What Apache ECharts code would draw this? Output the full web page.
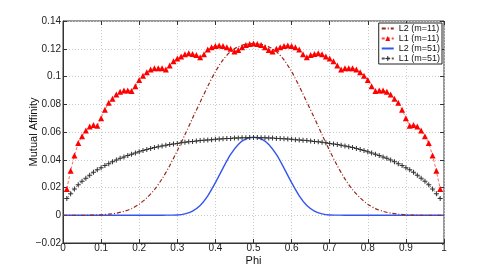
<!DOCTYPE html>
<html>
<head>
<meta charset="utf-8">
<script src="https://cdn.jsdelivr.net/npm/echarts@6/dist/echarts.min.js"></script>
<style>
    html, body { margin: 0; padding: 0; background: #fff; }
    #chart { width: 491px; height: 273px; }
</style>
</head>
<body>
<div id="chart"></div>
<script>
// L1 (m=11), phi = 0.01 ... 0.99
const l1m11 = [
    0.019, 0.032, 0.043, 0.052, 0.057, 0.061, 0.064, 0.065, 0.0645, 0.070,
    0.076, 0.081, 0.084, 0.087, 0.089, 0.090, 0.090, 0.0895, 0.093, 0.0975,
    0.1005, 0.103, 0.105, 0.106, 0.106, 0.106, 0.105, 0.108, 0.111, 0.113,
    0.1145, 0.116, 0.1167, 0.1162, 0.1155, 0.1138, 0.116, 0.1194, 0.121, 0.122,
    0.1223, 0.122, 0.121, 0.120, 0.118, 0.1191, 0.121, 0.1227, 0.1235, 0.1237,
    0.1235, 0.1227, 0.121, 0.1191, 0.118, 0.120, 0.121, 0.122, 0.1223, 0.122,
    0.121, 0.1194, 0.116, 0.1138, 0.1155, 0.1162, 0.1167, 0.116, 0.1145, 0.113,
    0.111, 0.108, 0.105, 0.106, 0.106, 0.106, 0.105, 0.103, 0.1005, 0.0975,
    0.093, 0.0895, 0.090, 0.090, 0.089, 0.087, 0.084, 0.081, 0.076, 0.070,
    0.0645, 0.065, 0.064, 0.061, 0.057, 0.052, 0.043, 0.032, 0.019
]

// L1 (m=51), phi = 0.01 ... 0.99
const l1m51 = [
    0.012, 0.0155, 0.019, 0.022, 0.0245, 0.0267, 0.0289, 0.031, 0.0328, 0.0343,
    0.0358, 0.0372, 0.0385, 0.0398, 0.041, 0.042, 0.043, 0.044, 0.0449, 0.0458,
    0.0466, 0.0474, 0.0481, 0.0488, 0.0494, 0.050, 0.0505, 0.051, 0.0514, 0.0518,
    0.0522, 0.0526, 0.0529, 0.0532, 0.0535, 0.0538, 0.054, 0.0543, 0.0545, 0.0547,
    0.0549, 0.0551, 0.0553, 0.0554, 0.0556, 0.0557, 0.0558, 0.0559, 0.056, 0.056,
    0.056, 0.0559, 0.0558, 0.0557, 0.0556, 0.0554, 0.0553, 0.0551, 0.0549, 0.0547,
    0.0545, 0.0543, 0.054, 0.0538, 0.0535, 0.0532, 0.0529, 0.0526, 0.0522, 0.0518,
    0.0514, 0.051, 0.0505, 0.050, 0.0494, 0.0488, 0.0481, 0.0474, 0.0466, 0.0458,
    0.0449, 0.044, 0.043, 0.042, 0.041, 0.0398, 0.0385, 0.0372, 0.0358, 0.0343,
    0.0328, 0.031, 0.0289, 0.0267, 0.0245, 0.022, 0.019, 0.0155, 0.012
]

// L2 (m=11), phi = 0, 0.02 ... 1
const l2m11 = [
    0, 0, 0, 0, 0.0001, 0.0003, 0.0008, 0.0015, 0.0028, 0.0048,
    0.0080, 0.0125, 0.0185, 0.0262, 0.0357, 0.0465, 0.0580, 0.0700, 0.0815, 0.0930,
    0.1035, 0.1120, 0.1180, 0.1215, 0.1232, 0.1237, 0.1232, 0.1215, 0.1180, 0.1120,
    0.1035, 0.0930, 0.0815, 0.0700, 0.0580, 0.0465, 0.0357, 0.0262, 0.0185, 0.0125,
    0.0080, 0.0048, 0.0028, 0.0015, 0.0008, 0.0003, 0.0001, 0, 0, 0, 0
]

// L2 (m=51), phi = 0, 0.02 ... 1
const l2m51 = [
    0, 0, 0, 0, 0, 0, 0, 0, 0, 0,
    0, 0, 0, 0, 0.0001, 0.0002, 0.0010, 0.0030, 0.0070, 0.0140,
    0.0235, 0.0340, 0.0438, 0.0510, 0.0550, 0.0562, 0.0550, 0.0510, 0.0438, 0.0340,
    0.0235, 0.0140, 0.0070, 0.0030, 0.0010, 0.0002, 0.0001, 0, 0, 0,
    0, 0, 0, 0, 0, 0, 0, 0, 0, 0, 0
]

const seriesNames = ['L2 (m=11)', 'L1 (m=11)', 'L2 (m=51)', 'L1 (m=51)']
const xTicks = ['0', '0.1', '0.2', '0.3', '0.4', '0.5', '0.6', '0.7', '0.8', '0.9', '1']

// x positions of the samples
function fine(values) {
    return values.map(function (v, i) { return [+((i + 1) / 100).toFixed(2), v] })
}
function coarse(values) {
    return values.map(function (v, i) { return [+(i / 50).toFixed(2), v] })
}

const font = 'Liberation Sans'
const plus = 'path://M4,0 H6 V4 H10 V6 H6 V10 H4 V6 H0 V4 H4 Z'

const myChart = echarts.init(document.getElementById('chart'), null, { renderer: 'canvas' })

const option = {
    animation: false,
    backgroundColor: '#fff',
    textStyle: { fontFamily: font },
    grid: {
        left: 63, top: 21, width: 381, height: 222,
        outerBoundsMode: 'none',
        show: true, borderColor: '#333', borderWidth: 1, backgroundColor: 'transparent'
    },
    legend: {
        right: 49, top: 23,
        orient: 'vertical',
        backgroundColor: '#fff',
        borderColor: '#222', borderWidth: 1, borderRadius: 0,
        padding: [1, 2, 1, 2],
        itemGap: 1,
        itemWidth: 12, itemHeight: 6,
        textStyle: { fontFamily: font, fontSize: 9, color: '#111' },
        data: [
            { name: seriesNames[0], itemStyle: { opacity: 0 } },
            { name: seriesNames[1] },
            { name: seriesNames[2], itemStyle: { opacity: 0 } },
            { name: seriesNames[3] }
        ]
    },
    xAxis: [{
        type: 'value', min: 0, max: 1, interval: 0.1,
        name: 'Phi', nameLocation: 'middle', nameGap: 12, nameMoveOverlap: false,
        nameTextStyle: { fontFamily: font, fontSize: 11, color: '#111' },
        axisLine: { show: true, onZero: false, lineStyle: { color: '#333' } },
        axisTick: { inside: true, length: 4, lineStyle: { color: '#333' } },
        axisLabel: {
            fontFamily: font, fontSize: 10, color: '#222', margin: 0,
            formatter: function (v) { return xTicks[Math.round(v * 10)] }
        },
        splitLine: { show: true, lineStyle: { color: '#ccc', type: [1, 2] } }
    }, {
        type: 'value', min: 0, max: 1, interval: 0.1, position: 'top',
        axisLine: { show: false, onZero: false },
        axisTick: { inside: true, length: 4, lineStyle: { color: '#333' } },
        axisLabel: { show: false },
        splitLine: { show: false }
    }],
    yAxis: [{
        type: 'value', min: -0.02, max: 0.14, interval: 0.02,
        name: 'Mutual Affinity', nameLocation: 'middle', nameGap: 24, nameMoveOverlap: false,
        nameTextStyle: { fontFamily: font, fontSize: 11, color: '#111' },
        axisLine: { show: true, onZero: false, lineStyle: { color: '#333' } },
        axisTick: { inside: true, length: 4, lineStyle: { color: '#333' } },
        axisLabel: {
            fontFamily: font, fontSize: 10, color: '#222', margin: 2,
            formatter: function (v) {
                const s = String(+Math.abs(v).toFixed(2))
                return v < -1e-9 ? '\u2212' + s : s
            }
        },
        splitLine: { show: true, lineStyle: { color: '#ccc', type: [1, 2] } }
    }, {
        type: 'value', min: -0.02, max: 0.14, interval: 0.02, position: 'right',
        axisLine: { show: false, onZero: false },
        axisTick: { inside: true, length: 4, lineStyle: { color: '#333' } },
        axisLabel: { show: false },
        splitLine: { show: false }
    }],
    series: [{
        name: seriesNames[0],
        type: 'line',
        data: coarse(l2m11),
        smooth: 0.3,
        symbol: 'none',
        color: '#98261a',
        lineStyle: { color: '#98261a', width: 1.2, type: [4, 2, 1, 2] },
        z: 3
    }, {
        name: seriesNames[1],
        type: 'line',
        data: fine(l1m11),
        symbol: 'triangle', symbolSize: 6,
        color: '#ff0000',
        itemStyle: { color: '#ff0000' },
        lineStyle: { color: '#ff4040', width: 0.8, type: [3, 2] },
        z: 4
    }, {
        name: seriesNames[2],
        type: 'line',
        data: coarse(l2m51),
        smooth: 0.3,
        symbol: 'none',
        color: '#3355ee',
        lineStyle: { color: '#3355ee', width: 1.4 },
        z: 2
    }, {
        name: seriesNames[3],
        type: 'line',
        data: fine(l1m51),
        symbol: plus, symbolSize: 5,
        color: '#333',
        itemStyle: { color: '#333' },
        lineStyle: { color: '#555', width: 0.8, type: [3, 2] },
        z: 3
    }]
}

myChart.setOption(option)
window.addEventListener('resize', myChart.resize)
</script>
</body>
</html>
